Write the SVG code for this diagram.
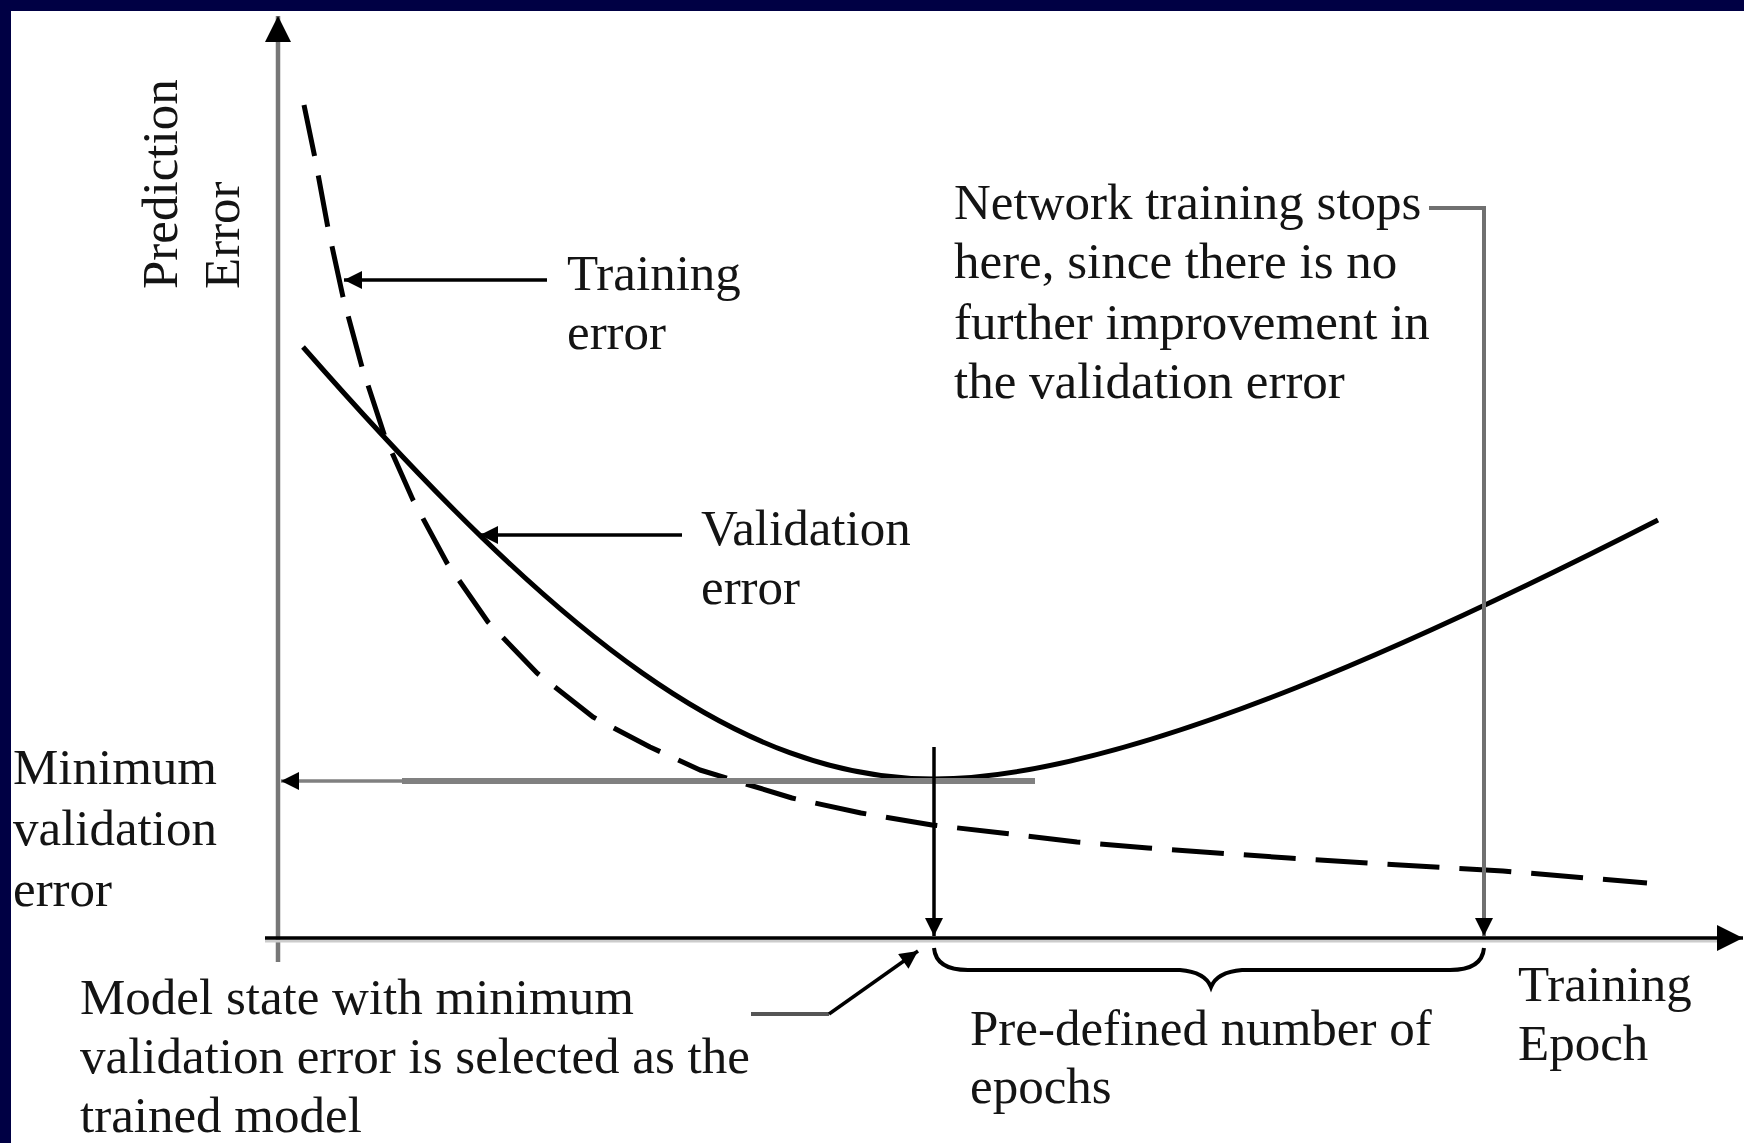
<svg xmlns="http://www.w3.org/2000/svg" width="1744" height="1143" viewBox="0 0 1744 1143">
<style>
  .t { font-family: "Liberation Serif", "Times New Roman", serif; font-size: 51px; fill: #141414; }
  .curve { fill: none; stroke: #000; stroke-width: 5; stroke-linejoin: round; }
  .dash { fill: none; stroke: #000; stroke-width: 5; stroke-dasharray: 52 20; stroke-linejoin: round; }
  .ln { fill: none; stroke: #000; stroke-width: 3.5; }
  .gray { fill: none; stroke: #7a7a7a; stroke-width: 4.5; }
</style>
<defs>
  <marker id="ah" viewBox="0 0 10 10" refX="10" refY="5" markerWidth="22" markerHeight="18" markerUnits="userSpaceOnUse" orient="auto">
    <path d="M0,0 L10,5 L0,10 z" fill="#000"/>
  </marker>
  <marker id="ahBig" viewBox="0 0 10 10" refX="10" refY="5" markerWidth="28" markerHeight="26" markerUnits="userSpaceOnUse" orient="auto">
    <path d="M0,0 L10,5 L0,10 z" fill="#000"/>
  </marker>
</defs>
<rect x="0" y="0" width="1744" height="1143" fill="#000044"/>
<rect x="11" y="11" width="1733" height="1132" fill="#ffffff"/>

<g id="axes">
  <line x1="278" y1="962" x2="278" y2="16" class="gray" marker-end="url(#ahBig)" style="stroke:#777"/>
  <line x1="265" y1="941" x2="1720" y2="941" stroke="#cccccc" stroke-width="3"/>
  <line x1="265" y1="938" x2="1743" y2="938" class="ln" marker-end="url(#ahBig)"/>
</g>

<g id="y-label">
  <text class="t" transform="translate(177,289) rotate(-90)">Prediction</text>
  <text class="t" transform="translate(239,289) rotate(-90)">Error</text>
</g>

<g id="training-error-curve">
  <polyline class="dash" points="304,105 315,158 328,228 343,297 362,367 385,437 413,500 447,563 488,622 537,673 593,717 650,747 700,770 792,798 861,813 932,825 1002,833 1077,842 1148,848 1217,853 1289,858 1400,865 1503,871 1647,883"/>
</g>

<g id="validation-error-curve">
  <path class="curve" d="M303,347 C560,640 740,779 934,779 C1134,779 1458,622 1658,520"/>
</g>

<g id="connectors">
  <line x1="547" y1="280" x2="344" y2="280" class="ln" marker-end="url(#ah)"/>
  <line x1="682" y1="535" x2="480" y2="535" class="ln" marker-end="url(#ah)"/>
  <line x1="1035" y1="781" x2="402" y2="781" stroke="#808080" stroke-width="6"/>
  <line x1="405" y1="781" x2="281" y2="781" stroke="#808080" stroke-width="3.5" marker-end="url(#ah)"/>
  <line x1="934" y1="747" x2="934" y2="936" class="ln" stroke-width="3" marker-end="url(#ah)"/>
  <polyline points="1429,208 1484,208 1484,936" fill="none" stroke="#707070" stroke-width="4" marker-end="url(#ah)"/>
  <polyline points="751,1014 829,1014" fill="none" stroke="#555" stroke-width="4"/>
  <line x1="829" y1="1014" x2="918" y2="951" class="ln" stroke-width="3" marker-end="url(#ah)"/>
  <path d="M934,948 Q936,970 968,970 L1180,970 Q1205,972 1211,987 Q1217,972 1242,970 L1450,970 Q1482,970 1484,948" fill="none" stroke="#000" stroke-width="4"/>
</g>

<g id="label-training-error">
  <text class="t" x="567" y="290">Training</text>
  <text class="t" x="567" y="349">error</text>
</g>
<g id="label-validation-error">
  <text class="t" x="701" y="545">Validation</text>
  <text class="t" x="701" y="604">error</text>
</g>
<g id="label-minimum">
  <text class="t" x="13" y="784">Minimum</text>
  <text class="t" x="13" y="845">validation</text>
  <text class="t" x="13" y="906">error</text>
</g>
<g id="label-stop">
  <text class="t" x="954" y="219">Network training stops</text>
  <text class="t" x="954" y="278">here, since there is no</text>
  <text class="t" x="954" y="339">further improvement in</text>
  <text class="t" x="954" y="398">the validation error</text>
</g>
<g id="label-predefined">
  <text class="t" x="970" y="1045">Pre-defined number of</text>
  <text class="t" x="970" y="1103">epochs</text>
</g>
<g id="label-epoch">
  <text class="t" x="1518" y="1001">Training</text>
  <text class="t" x="1518" y="1060">Epoch</text>
</g>
<g id="label-model-state">
  <text class="t" x="80" y="1014">Model state with minimum</text>
  <text class="t" x="80" y="1073">validation error is selected as the</text>
  <text class="t" x="80" y="1132">trained model</text>
</g>
</svg>
